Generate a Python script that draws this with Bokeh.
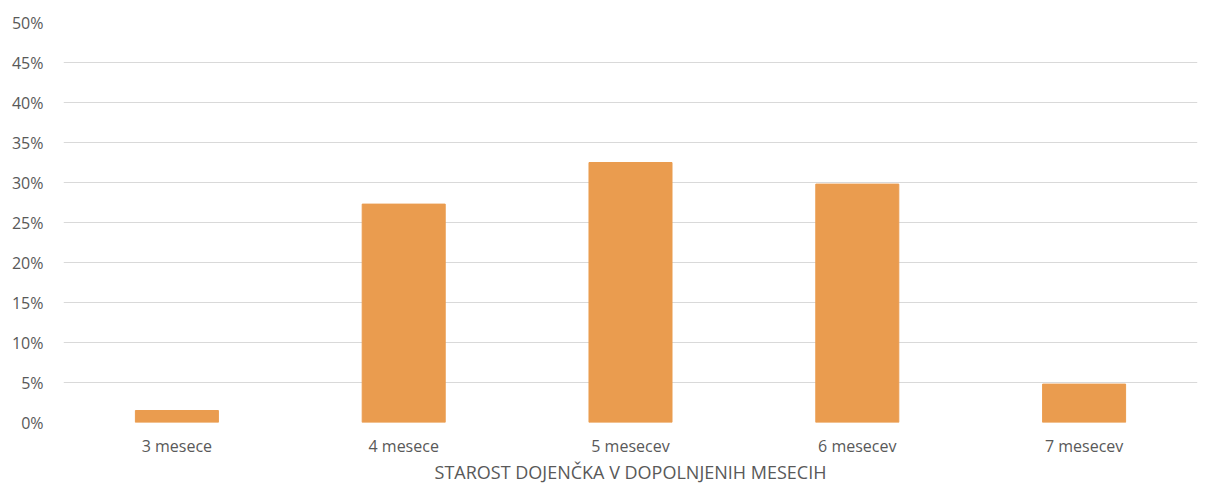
from bokeh.plotting import figure
from bokeh.models import FactorRange, Range1d, PrintfTickFormatter, FixedTicker
from bokeh.embed import file_html
from bokeh.resources import INLINE

categories = ["3 mesece", "4 mesece", "5 mesecev", "6 mesecev", "7 mesecev"]
values = [1.5, 27.3, 32.5, 29.8, 4.8]
y_ticks = [0, 5, 10, 15, 20, 25, 30, 35, 40, 45, 50]
x_title = "STAROST DOJENČKA V DOPOLNJENIH MESECIH"

FONT = "Open Sans"
TXT = "#595959"

p = figure(frame_width=1134, frame_height=400, x_range=FactorRange(*categories, range_padding=0),
           y_range=Range1d(0, 50), output_backend="svg", toolbar_location=None,
           min_border_left=63, min_border_right=20, min_border_top=22, min_border_bottom=10)
p.vbar(x=categories, top=values, width=0.366, color="#EA9C4F")

p.outline_line_color = None
p.xgrid.grid_line_color = None
p.ygrid.grid_line_color = "#D9D9D9"
p.ygrid.grid_line_width = 1
p.yaxis.ticker = FixedTicker(ticks=y_ticks)
p.yaxis.formatter = PrintfTickFormatter(format="%d%%")

for ax in (p.xaxis, p.yaxis):
    ax.axis_line_color = None
    ax.major_tick_line_color = None
    ax.minor_tick_line_color = None
    ax.major_label_text_font = FONT
    ax.major_label_text_font_size = "16px"
    ax.major_label_text_color = TXT

p.yaxis.major_label_standoff = 14
p.xaxis.major_label_standoff = 6
p.xaxis.axis_label = x_title
p.xaxis.axis_label_text_font = FONT
p.xaxis.axis_label_text_font_size = "18px"
p.xaxis.axis_label_text_font_style = "normal"
p.xaxis.axis_label_text_color = TXT
p.xaxis.axis_label_standoff = 0

open("out.html", "w").write(file_html(p, INLINE))
